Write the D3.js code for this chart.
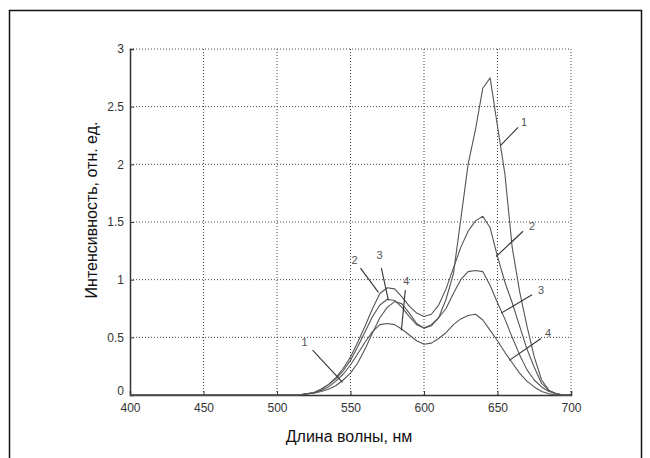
<!DOCTYPE html>
<html>
<head>
<meta charset="utf-8">
<script src="https://cdn.jsdelivr.net/npm/d3@7"></script>
<style>
  body { margin: 0; background: #fff; }
  svg { display: block; }
  .tick text { font-family: "Liberation Sans", Arial, sans-serif; font-size: 12px; fill: #333; }
  .axis-label { font-family: "Liberation Sans Narrow", "Liberation Sans", sans-serif; font-size: 16px; fill: #111; }
  .curve-label { font-family: "Liberation Sans Narrow", "Liberation Sans", sans-serif; font-size: 11px; fill: #555; }
</style>
</head>
<body>
<svg id="chart" width="650" height="458"></svg>
<script>
const wavelengths = [400, 510, 515, 520, 525, 530, 535, 540, 545, 550, 555, 560, 565, 570, 575,
  580, 585, 590, 595, 600, 605, 610, 615, 620, 625, 630, 635, 640, 645, 650, 655, 660, 665,
  670, 675, 680, 685, 690, 695, 700];

const curve1 = [0, 0, 0, 0.01, 0.015, 0.03, 0.05, 0.08, 0.13, 0.19, 0.28, 0.40, 0.54, 0.67, 0.76,
  0.81, 0.79, 0.71, 0.62, 0.58, 0.60, 0.67, 0.83, 1.05, 1.52, 2.0, 2.3, 2.66, 2.75, 2.33, 1.92, 1.28, 0.9,
  0.6, 0.33, 0.13, 0.04, 0.01, 0, 0];
const curve2 = [0, 0, 0, 0.01, 0.02, 0.05, 0.09, 0.15, 0.23, 0.33, 0.46, 0.60, 0.75, 0.88, 0.93,
  0.92, 0.85, 0.77, 0.71, 0.68, 0.70, 0.78, 0.92, 1.10, 1.28, 1.42, 1.51, 1.55, 1.45, 1.20, 0.98, 0.80, 0.60,
  0.40, 0.24, 0.10, 0.04, 0.01, 0, 0];
const curve3 = [0, 0, 0, 0.01, 0.02, 0.05, 0.09, 0.14, 0.21, 0.30, 0.42, 0.55, 0.68, 0.78, 0.83,
  0.82, 0.76, 0.68, 0.61, 0.58, 0.61, 0.67, 0.75, 0.88, 1.00, 1.07, 1.08, 1.07, 0.95, 0.80, 0.66, 0.50, 0.35,
  0.22, 0.13, 0.07, 0.03, 0.01, 0, 0];
const curve4 = [0, 0, 0, 0.01, 0.02, 0.04, 0.07, 0.12, 0.18, 0.26, 0.36, 0.46, 0.55, 0.61, 0.62,
  0.61, 0.57, 0.52, 0.47, 0.44, 0.45, 0.49, 0.54, 0.61, 0.66, 0.69, 0.70, 0.65, 0.56, 0.47, 0.37, 0.28, 0.19,
  0.12, 0.07, 0.03, 0.01, 0, 0, 0];

const xTicks = [400, 450, 500, 550, 600, 650, 700];
const yTicks = [0, 0.5, 1, 1.5, 2, 2.5, 3];

// leader lines: from the curve point to near the number
const labels = [
  { text: "1", x1: 651.8, y1: 2.16, x2: 664, y2: 2.32, tx: 668, ty: 2.37 },
  { text: "2", x1: 649, y1: 1.20, x2: 667.4, y2: 1.42, tx: 673.5, ty: 1.46 },
  { text: "3", x1: 652.5, y1: 0.71, x2: 673.5, y2: 0.87, tx: 679.6, ty: 0.91 },
  { text: "4", x1: 658, y1: 0.30, x2: 679.6, y2: 0.49, tx: 684.4, ty: 0.54 },
  { text: "2", x1: 569, y1: 0.89, x2: 556.8, y2: 1.10, tx: 552.7, ty: 1.17 },
  { text: "3", x1: 575.8, y1: 0.82, x2: 571, y2: 1.10, tx: 569.7, ty: 1.21 },
  { text: "4", x1: 584.6, y1: 0.56, x2: 587.3, y2: 0.91, tx: 588, ty: 0.99 },
  { text: "1", x1: 544.6, y1: 0.11, x2: 524.2, y2: 0.39, tx: 518.8, ty: 0.46 }
];

const svg = d3.select("#chart");
const margin = { left: 130, top: 49, right: 650 - 571, bottom: 458 - 395 };
const width = 650 - margin.left - margin.right;
const height = 458 - margin.top - margin.bottom;

// outer frame (bottom runs off the picture)
svg.append("path")
  .attr("d", "M9.5,470 V10.5 H641.5 V470")
  .attr("fill", "none")
  .attr("stroke", "#111")
  .attr("stroke-width", 1.5);

const x = d3.scaleLinear().domain([400, 700]).range([0, width]);
const y = d3.scaleLinear().domain([0, 3]).range([height, 0]);

const g = svg.append("g").attr("transform", `translate(${margin.left},${margin.top})`);

// dotted grid
g.append("g").selectAll("line")
  .data(xTicks.slice(1))
  .enter().append("line")
  .attr("x1", d => x(d)).attr("x2", d => x(d))
  .attr("y1", 0).attr("y2", height)
  .attr("stroke", "#444").attr("stroke-dasharray", "1,2");

g.append("g").selectAll("line")
  .data(yTicks.slice(1))
  .enter().append("line")
  .attr("x1", 0).attr("x2", width)
  .attr("y1", d => y(d)).attr("y2", d => y(d))
  .attr("stroke", "#444").attr("stroke-dasharray", "1,2");

// axes
const xAxis = g.append("g")
  .attr("transform", `translate(0,${height})`)
  .call(d3.axisBottom(x).tickValues(xTicks).tickSize(-4).tickPadding(8).tickFormat(d3.format("d")));
const yAxis = g.append("g")
  .call(d3.axisLeft(y).tickValues(yTicks).tickSize(-4).tickPadding(6).tickFormat(d => d));

[xAxis, yAxis].forEach(a => {
  a.select(".domain").attr("stroke", "#333").attr("stroke-width", 1.5);
  a.selectAll(".tick line").attr("stroke", "#333");
});
yAxis.selectAll(".tick text").filter(d => d === 0).attr("dy", "-0.05em");

// curves
const line = d3.line()
  .x(d => x(d[0]))
  .y(d => y(d[1]));

[curve1, curve2, curve3, curve4].forEach(vals => {
  g.append("path")
    .datum(wavelengths.map((w, i) => [w, vals[i]]))
    .attr("fill", "none")
    .attr("stroke", "#555")
    .attr("stroke-width", 1.1)
    .attr("stroke-linejoin", "round")
    .attr("d", line);
});

// curve numbers with leader lines
labels.forEach(l => {
  g.append("line")
    .attr("x1", x(l.x1)).attr("y1", y(l.y1))
    .attr("x2", x(l.x2)).attr("y2", y(l.y2))
    .attr("stroke", "#333").attr("stroke-width", 1.1);
  g.append("text")
    .attr("class", "curve-label")
    .attr("x", x(l.tx)).attr("y", y(l.ty))
    .attr("text-anchor", "middle")
    .attr("dy", "0.35em")
    .text(l.text);
});

// axis titles
svg.append("text")
  .attr("class", "axis-label")
  .attr("x", 349).attr("y", 442)
  .attr("text-anchor", "middle")
  .text("Длина волны, нм");

svg.append("text")
  .attr("class", "axis-label")
  .attr("transform", "translate(97,210) rotate(-90)")
  .attr("text-anchor", "middle")
  .text("Интенсивность, отн. ед.");
</script>
</body>
</html>
